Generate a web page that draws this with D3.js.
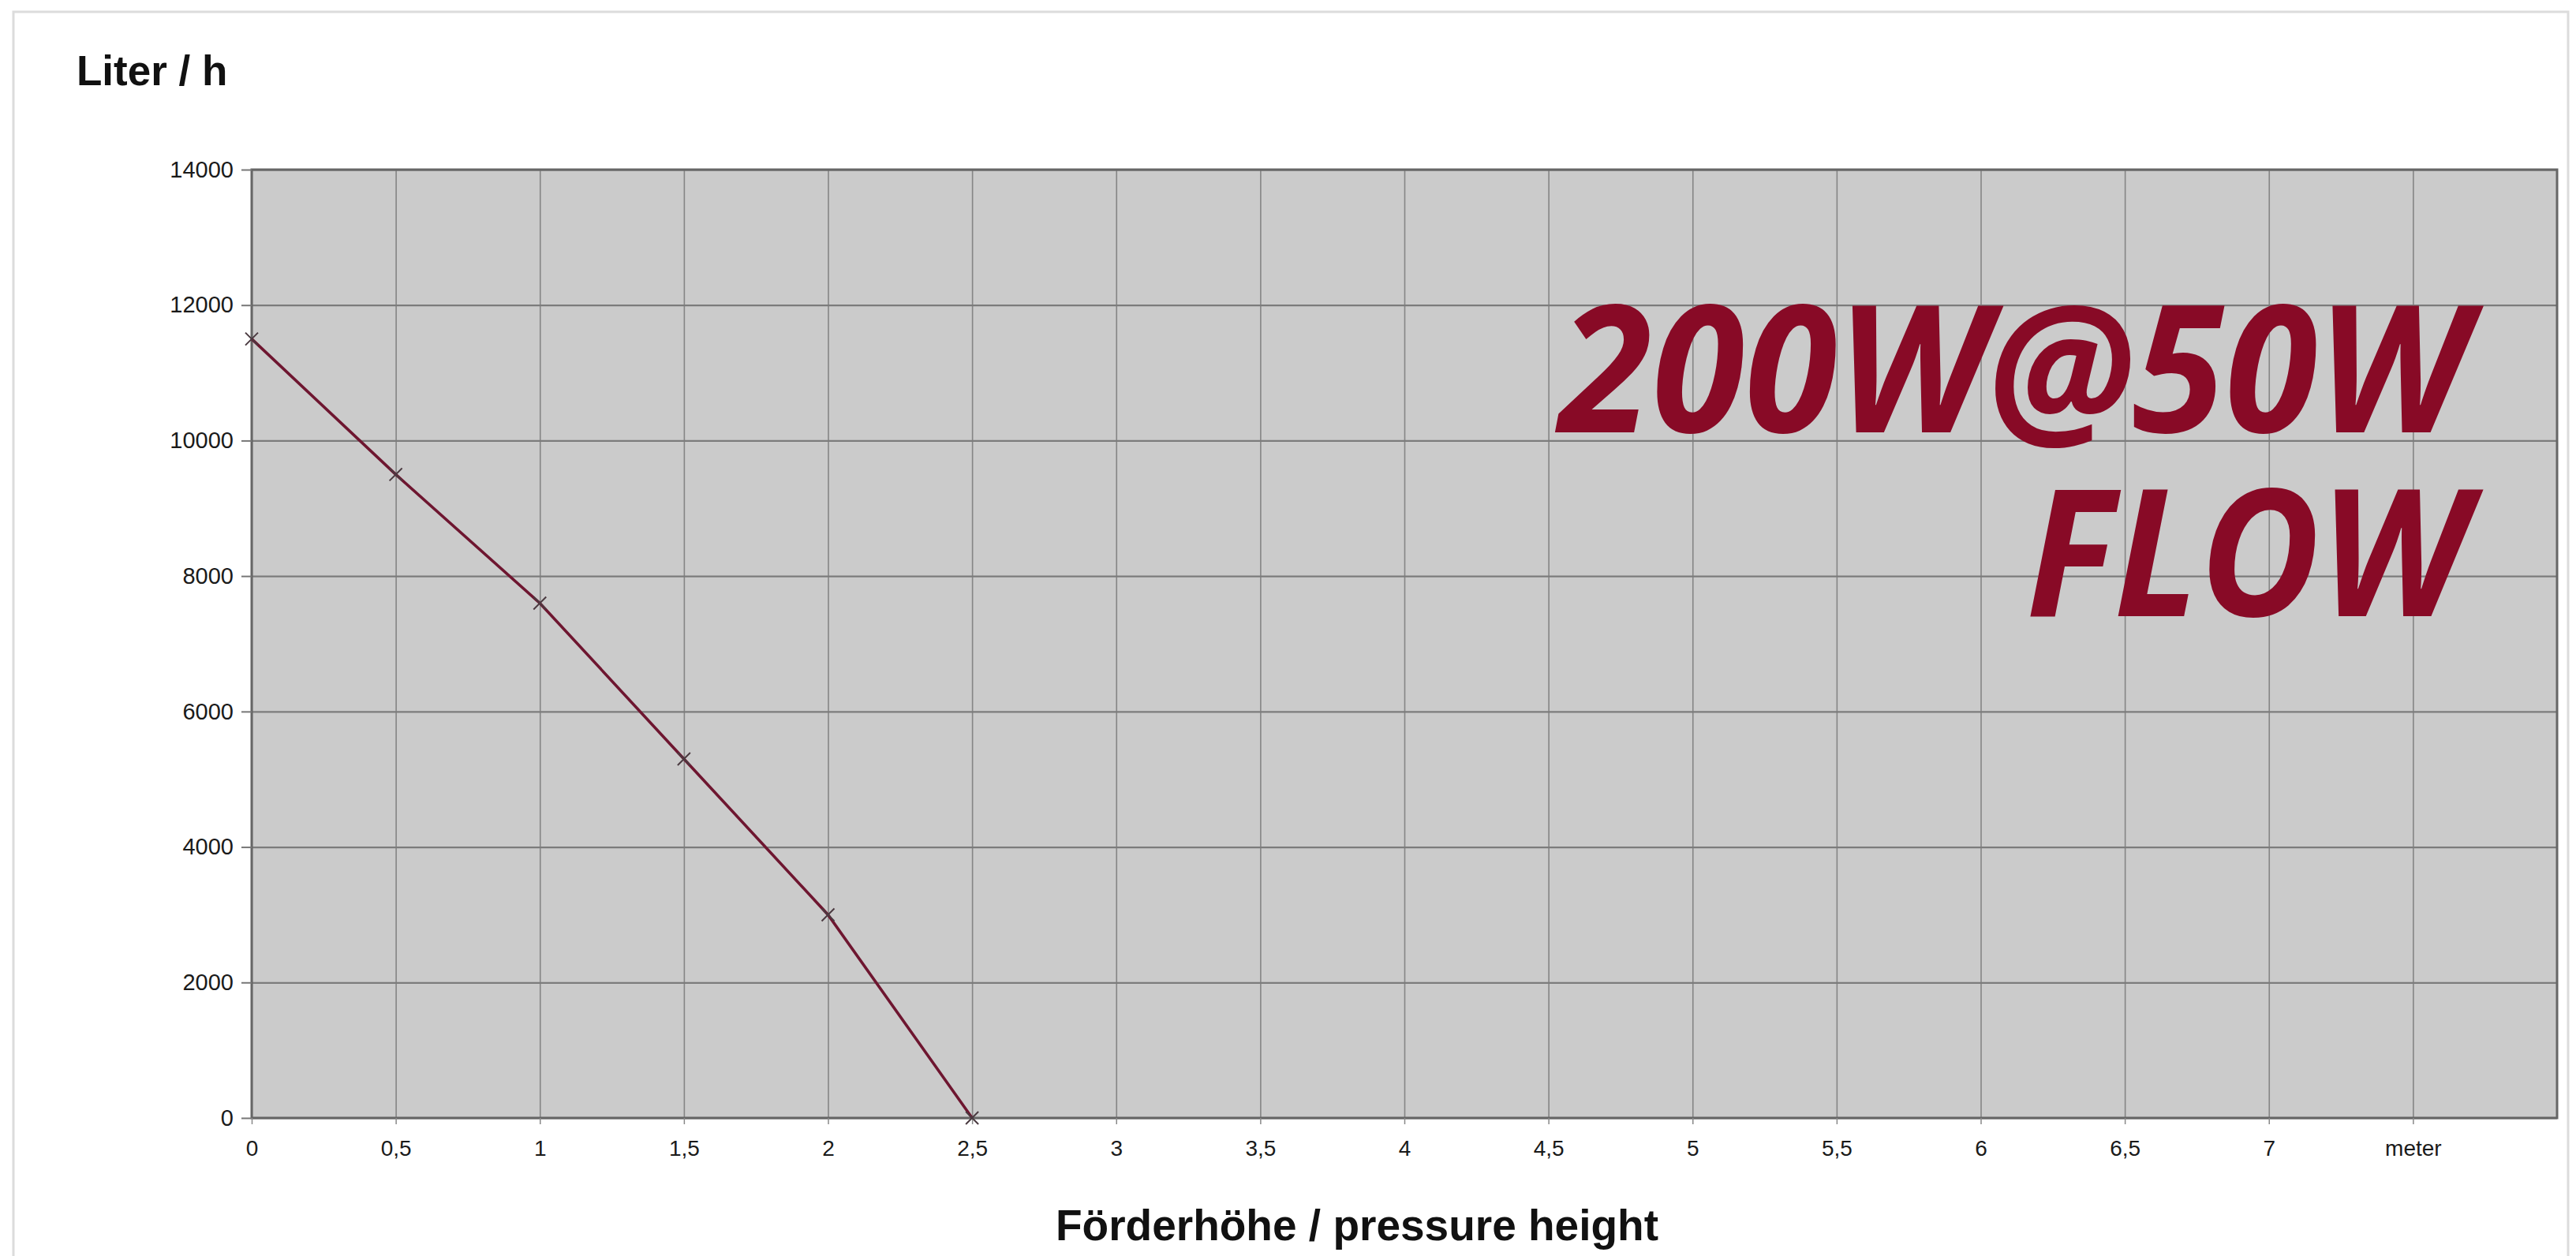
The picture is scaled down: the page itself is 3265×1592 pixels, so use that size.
<!DOCTYPE html>
<html>
<head>
<meta charset="utf-8">
<script src="https://cdn.jsdelivr.net/npm/d3@7"></script>
<style>
  html, body { margin: 0; padding: 0; background: #ffffff; }
  svg { display: block; }
</style>
</head>
<body>
<svg id="chart" width="3265" height="1592"></svg>
<script>
// ---- data ----
const heights = [0, 0.5, 1, 1.5, 2, 2.5];
const flow = [11500, 9500, 7600, 5300, 3000, 0];
const yTickValues = [0, 2000, 4000, 6000, 8000, 10000, 12000, 14000];
const xTickValues = [0, 0.5, 1, 1.5, 2, 2.5, 3, 3.5, 4, 4.5, 5, 5.5, 6, 6.5, 7, 7.5];
const xTickLabels = ["0", "0,5", "1", "1,5", "2", "2,5", "3", "3,5", "4", "4,5", "5", "5,5", "6", "6,5", "7", "meter"];
const yTitle = "Liter / h";
const xTitle = "Förderhöhe / pressure height";
const badgeLines = ["200W@50W", "FLOW"];

// ---- layout ----
const svg = d3.select("#chart");
const plot = { left: 319, top: 215, right: 3241, bottom: 1417 };
const x = d3.scaleLinear().domain([0, 8]).range([plot.left, plot.right]);
const y = d3.scaleLinear().domain([0, 14000]).range([plot.bottom, plot.top]);
const font = "'Liberation Sans', Arial, Helvetica, sans-serif";

// outer faint frame
svg.append("rect")
  .attr("x", 17).attr("y", 15).attr("width", 3238).attr("height", 1600)
  .attr("fill", "none").attr("stroke", "#dcdcdc").attr("stroke-width", 3);

// plot background
svg.append("rect")
  .attr("x", plot.left).attr("y", plot.top)
  .attr("width", plot.right - plot.left).attr("height", plot.bottom - plot.top)
  .attr("fill", "#cbcbcb");

// vertical gridlines
svg.append("g")
  .attr("transform", `translate(0,${plot.bottom})`)
  .call(d3.axisBottom(x).tickValues(xTickValues).tickSize(-(plot.bottom - plot.top)).tickFormat(""))
  .call(g => g.select(".domain").remove())
  .call(g => g.selectAll("line").attr("stroke", "#858585").attr("stroke-width", 1.6));

// horizontal gridlines
svg.append("g")
  .attr("transform", `translate(${plot.left},0)`)
  .call(d3.axisLeft(y).tickValues(yTickValues).tickSize(-(plot.right - plot.left)).tickFormat(""))
  .call(g => g.select(".domain").remove())
  .call(g => g.selectAll("line").attr("stroke", "#7c7c7c").attr("stroke-width", 2.2));

// plot border
svg.append("rect")
  .attr("x", plot.left).attr("y", plot.top)
  .attr("width", plot.right - plot.left).attr("height", plot.bottom - plot.top)
  .attr("fill", "none").attr("stroke", "#666666").attr("stroke-width", 3);

// y axis
const yAxis = svg.append("g")
  .attr("transform", `translate(${plot.left},0)`)
  .call(d3.axisLeft(y).tickValues(yTickValues).tickSize(13).tickPadding(10).tickFormat(d3.format("d")));
yAxis.select(".domain").remove();
yAxis.selectAll("line").attr("stroke", "#777").attr("stroke-width", 2);
yAxis.selectAll("text").attr("font-family", font).attr("font-size", 29).attr("fill", "#1a1a1a");

// x axis
const xAxis = svg.append("g")
  .attr("transform", `translate(0,${plot.bottom})`)
  .call(d3.axisBottom(x).tickValues(xTickValues).tickSize(8).tickPadding(20)
    .tickFormat((d, i) => xTickLabels[i]));
xAxis.select(".domain").remove();
xAxis.selectAll("line").attr("stroke", "#888").attr("stroke-width", 1.5);
xAxis.selectAll("text").attr("font-family", font).attr("font-size", 28).attr("fill", "#1a1a1a");

// series line
const pts = heights.map((h, i) => [h, flow[i]]);
svg.append("path")
  .datum(pts)
  .attr("fill", "none")
  .attr("stroke", "#6e1630")
  .attr("stroke-width", 3.6)
  .attr("d", d3.line().x(d => x(d[0])).y(d => y(d[1])));

// x markers
const m = 8;
svg.append("g").selectAll("path")
  .data(pts).join("path")
  .attr("d", d => {
    const cx = x(d[0]), cy = y(d[1]);
    return `M${cx - m},${cy - m}L${cx + m},${cy + m}M${cx - m},${cy + m}L${cx + m},${cy - m}`;
  })
  .attr("stroke", "#4a3a40").attr("stroke-width", 2).attr("fill", "none");

// axis titles
svg.append("text")
  .attr("x", 97).attr("y", 108)
  .attr("font-family", font).attr("font-weight", "bold").attr("font-size", 53)
  .attr("fill", "#111").text(yTitle);

svg.append("text")
  .attr("x", 1720).attr("y", 1572).attr("text-anchor", "middle")
  .attr("font-family", font).attr("font-weight", "bold").attr("font-size", 55)
  .attr("fill", "#111").text(xTitle);

// badge text
const badgeFont = "'Open Sans', 'Noto Sans', 'DejaVu Sans', sans-serif";
svg.append("text")
  .attr("x", 3128).attr("y", 548).attr("text-anchor", "end")
  .attr("font-family", badgeFont).attr("font-weight", 700).attr("font-style", "italic")
  .attr("font-size", 225).attr("fill", "#880a26")
  .attr("textLength", 1152).attr("lengthAdjust", "spacingAndGlyphs")
  .text(badgeLines[0]);
svg.append("text")
  .attr("x", 3128).attr("y", 781).attr("text-anchor", "end")
  .attr("font-family", badgeFont).attr("font-weight", 700).attr("font-style", "italic")
  .attr("font-size", 225).attr("fill", "#880a26")
  .attr("textLength", 560).attr("lengthAdjust", "spacingAndGlyphs")
  .text(badgeLines[1]);
</script>
</body>
</html>
